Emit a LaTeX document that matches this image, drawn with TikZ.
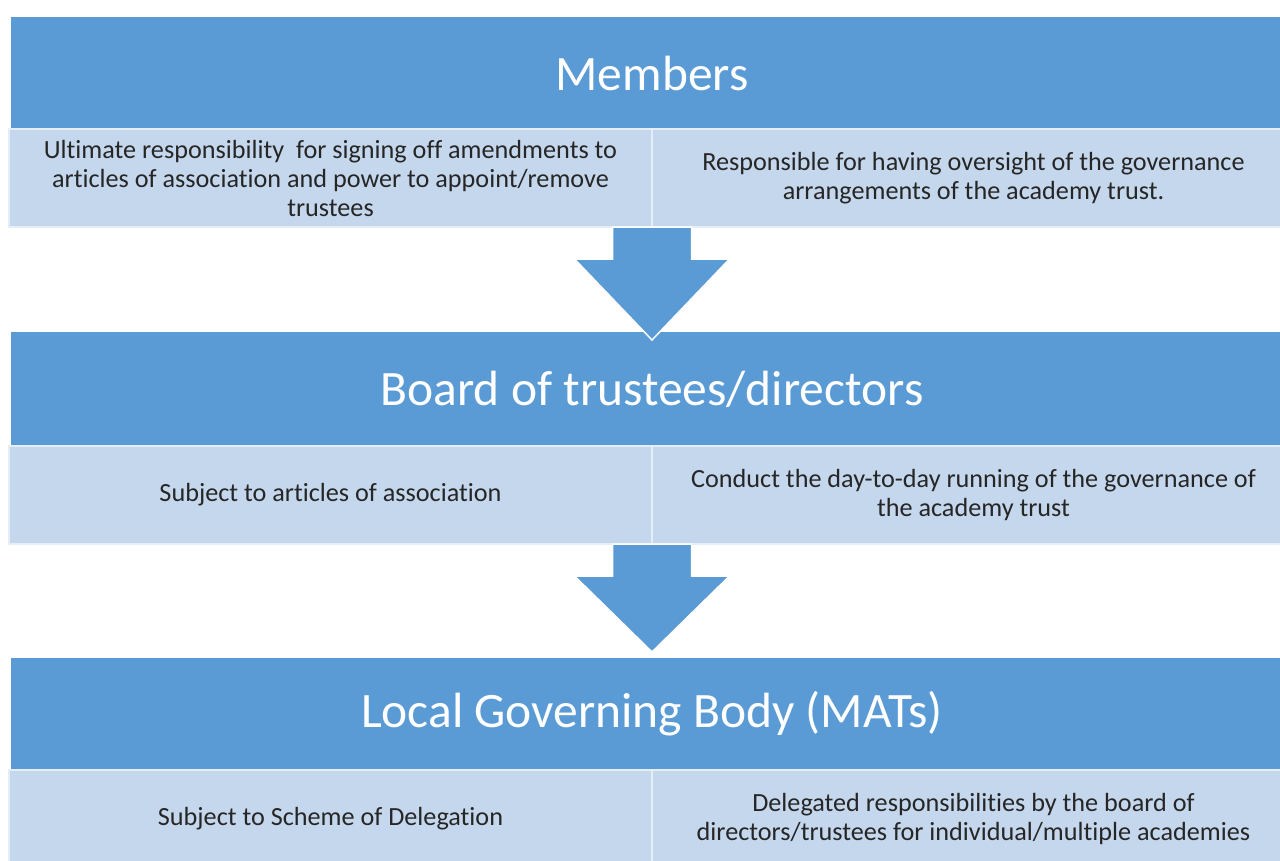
\documentclass[tikz,border=0pt]{standalone}
\usepackage{fontspec}
\setmainfont{Carlito}[Ligatures=NoCommon]
\usetikzlibrary{calc}
\usetikzlibrary{positioning}

\definecolor{bandblue}{HTML}{5B9BD5}
\definecolor{cellblue}{HTML}{C5D7EC}

\begin{document}
\begin{tikzpicture}[x=1pt, y=-1pt,
      band/.style={fill=bandblue, text=white, inner sep=0pt, outer sep=0pt,
        minimum width=1282pt, minimum height=112pt,
        font=\fontsize{49.5}{59}\selectfont},
      cell/.style={fill=cellblue, draw=white!55!cellblue, line width=1.5pt,
        inner sep=0pt, outer sep=0pt, minimum width=643pt, minimum height=98pt,
        align=center, text=black!85, font=\fontsize{26.2}{29}\selectfont},
      downarrow/.style={fill=bandblue, draw=white, line width=1.5pt},
      ]
      \clip (0,0) rectangle (1280,860);
      \fill[white] (0,0) rectangle (1280,860);

      % top level
      \node[band] (members) at (652,73) {Members};
      \node[cell, below left=0pt and 0pt of members.south] (memL)
        {Ultimate responsibility\ \ for signing off amendments to\\
         articles of association and power to appoint/remove\\trustees};
      \node[cell, below right=0pt and 0pt of members.south] (memR)
        {Responsible for having oversight of the governance\\
         arrangements of the academy trust.};

      % trust board
      \node[band, minimum height=114pt, below=105pt of memL.south east] (board)
        {Board of trustees/directors};
      \node[cell, below left=0pt and 0pt of board.south] (boardL)
        {Subject to articles of association};
      \node[cell, below right=0pt and 0pt of board.south] (boardR)
        {Conduct the day-to-day running of the governance of\\the academy trust};

      % local level
      \node[band, below=114pt of boardL.south east] (local) {Local Governing Body (MATs)};
      \node[cell, below left=0pt and 0pt of local.south] (localL)
        {Subject to Scheme of Delegation};
      \node[cell, below right=0pt and 0pt of local.south] (localR)
        {Delegated responsibilities by the board of\\
         directors/trustees for individual/multiple academies};

      % block arrows between levels
      \foreach \src/\len in {memL/113, boardL/108}
        \filldraw[downarrow] ($(\src.south east)+(-39.5,0)$) -- ++(0,32) -- ++(-38,0)
          -- ($(\src.south east)+(0,\len)$) -- ($(\src.south east)+(77.5,32)$)
          -- ++(-38,0) -- ++(0,-32) -- cycle;
\end{tikzpicture}
\end{document}
